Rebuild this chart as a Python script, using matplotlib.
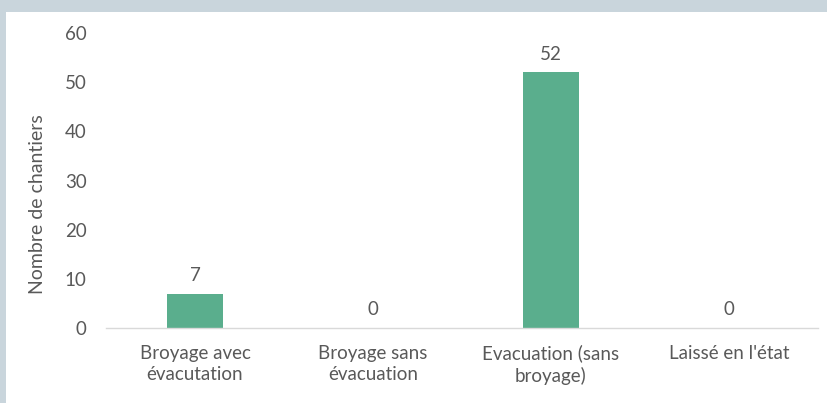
import matplotlib
matplotlib.use("Agg")
import matplotlib.pyplot as plt
from matplotlib.patches import Rectangle

categories = ["Broyage avec\névacutation", "Broyage sans\névacuation",
              "Evacuation (sans\nbroyage)", "Laissé en l'état"]
values = [7, 0, 52, 0]
yticks = [0, 10, 20, 30, 40, 50, 60]

plt.rcParams['font.family'] = ['Lato', 'DejaVu Sans']
txt = '#595959'
fs = 13.5

fig = plt.figure(figsize=(8.28, 4.03), dpi=100)
fig.patch.set_facecolor('#c9d5dc')
fig.patches.append(Rectangle((6/828, 0), 1, 1 - 12/403, transform=fig.transFigure,
                             facecolor='white', edgecolor='none', zorder=-10))

ax = fig.add_axes([106/828, (403-328)/403, (818-106)/828, (328-33)/403])
ax.set_zorder(1)
ax.set_facecolor('none')
x = range(len(categories))
bars = ax.bar(x, values, width=0.31, color='#5aae8d', zorder=2)
for xi, v in zip(x, values):
    ax.annotate(str(v), (xi, v), xytext=(0, 7), textcoords='offset points',
                ha='center', va='bottom', fontsize=fs, color=txt)

ax.set_xlim(-0.5, len(categories) - 0.5)
ax.set_ylim(0, 60)
ax.set_yticks(yticks)
ax.set_xticks(list(x))
ax.set_xticklabels(categories, fontsize=fs, color=txt, linespacing=1.3)
ax.tick_params(axis='y', length=0, pad=14, labelsize=fs, labelcolor=txt)
ax.tick_params(axis='x', length=0, pad=12)
for s in ['top', 'right', 'left']:
    ax.spines[s].set_visible(False)
ax.spines['bottom'].set_color('#d9d9d9')
ax.spines['bottom'].set_linewidth(1)
ax.set_ylabel('Nombre de chantiers', fontsize=14, color=txt)
ax.yaxis.set_label_coords((46 - 106) / 712, (328 - 204) / 295)

fig.savefig('out.png', dpi=100, facecolor=fig.get_facecolor())
